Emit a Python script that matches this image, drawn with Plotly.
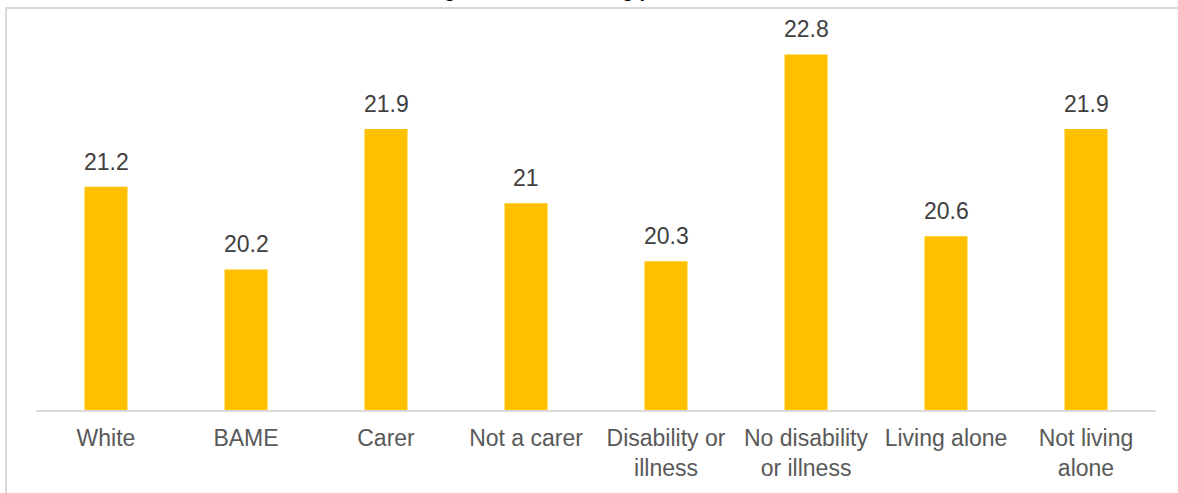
import plotly.graph_objects as go

categories = ["White", "BAME", "Carer", "Not a carer", "Disability or illness",
              "No disability or illness", "Living alone", "Not living alone"]
tick_labels = ["White", "BAME", "Carer", "Not a carer", "Disability or<br>illness",
               "No disability<br>or illness", "Living alone", "Not living<br>alone"]
values = [21.2, 20.2, 21.9, 21.0, 20.3, 22.8, 20.6, 21.9]
value_labels = ["21.2", "20.2", "21.9", "21", "20.3", "22.8", "20.6", "21.9"]
title_text = "Average mental wellbeing post lockdown"

FONT = "Liberation Sans, Arial, sans-serif"

fig = go.Figure()
fig.add_trace(go.Bar(
    x=categories, y=values, marker=dict(color="#FFC000", line=dict(width=0)),
    hoverinfo="x+y", showlegend=False,
))

for c, v, t in zip(categories, values, value_labels):
    fig.add_annotation(x=c, y=v, text=t, showarrow=False, yanchor="bottom",
                       yshift=10, font=dict(family=FONT, size=23, color="#404040"))

fig.add_annotation(x=0.489, y=1.0434, xref="paper", yref="paper", text="<b>" + title_text + "</b>",
                   showarrow=False, yanchor="bottom", xanchor="center",
                   font=dict(family=FONT, size=20, color="#000000"))

fig.add_shape(type="rect", xref="paper", yref="paper",
              x0=(6 - 36) / 1120, x1=(1190 - 36) / 1120, y0=-0.5, y1=(412 - 8) / 392,
              line=dict(color="#D9D9D9", width=2), fillcolor="rgba(0,0,0,0)", layer="below")

fig.update_layout(
    width=1178, height=493,
    margin=dict(l=36, r=22, t=20, b=81),
    paper_bgcolor="white", plot_bgcolor="white",
    bargap=0.693,
    font=dict(family=FONT),
    xaxis=dict(
        tickmode="array", tickvals=categories, ticktext=tick_labels,
        tickfont=dict(family=FONT, size=23, color="#595959"),
        ticklabelstandoff=7,
        showline=True, linecolor="#D9D9D9", linewidth=1.5, ticks="", showgrid=False,
    ),
    yaxis=dict(range=[18.5, 23.217], visible=False, showgrid=False, zeroline=False),
)

fig.write_html("out.html")
